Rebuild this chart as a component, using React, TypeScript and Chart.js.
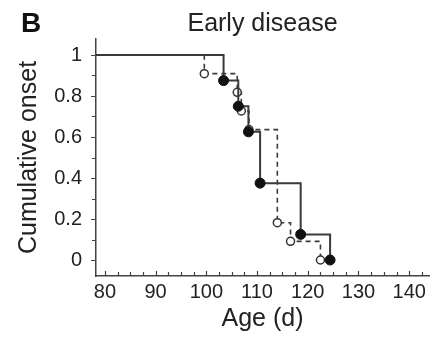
import React, { useEffect, useRef } from "react";
import { Chart, registerables } from "chart.js";

Chart.register(...registerables);

// ---- data ----
const ageSolid = [78.25, 103.4, 106.3, 108.3, 110.6, 118.6, 124.4];
const onsetSolid = [1, 0.875, 0.75, 0.625, 0.375, 0.125, 0];

const ageDashed = [78.25, 99.6, 106.1, 106.9, 108.4, 114.0, 116.6, 122.5];
const onsetDashed = [1, 0.909, 0.818, 0.727, 0.636, 0.182, 0.091, 0];

const xTickLabels = [80, 90, 100, 110, 120, 130, 140];
const yTickLabels = [0, 0.2, 0.4, 0.6, 0.8, 1];
const xMinorStep = 2.5;
const yMinorStep = 0.1;

const X_MIN = 78.25;
const X_MAX = 143.9;
const Y_MIN = -0.078;
const Y_MAX = 1.078;

const FONT = "'Liberation Sans', Arial, Helvetica, sans-serif";
const TEXT = "#222";
const AXIS = "#444";

const tickMarks = {
  id: "tickMarks",
  afterDraw(chart: any) {
    const { ctx, scales } = chart;
    const x = scales.x;
    const y = scales.y;
    ctx.save();
    ctx.strokeStyle = AXIS;
    ctx.lineWidth = 1.2;
    ctx.beginPath();
    const yBase = y.getPixelForValue(Y_MIN);
    for (let v = xTickLabels[0]; v <= X_MAX + 1e-9; v += xMinorStep) {
      const major = xTickLabels.some((t) => Math.abs(t - v) < 1e-6);
      const px = Math.round(x.getPixelForValue(v)) + 0.5;
      ctx.moveTo(px, yBase);
      ctx.lineTo(px, yBase - (major ? 5 : 4));
    }
    const xBase = x.getPixelForValue(X_MIN);
    for (let i = 0; i <= 10; i++) {
      const v = i * yMinorStep;
      const major = yTickLabels.some((t) => Math.abs(t - v) < 1e-6);
      const py = Math.round(y.getPixelForValue(v)) + 0.5;
      ctx.moveTo(xBase, py);
      ctx.lineTo(xBase - (major ? 5 : 4), py);
    }
    ctx.stroke();
    ctx.restore();
  },
};

export default function App() {
  const ref = useRef<HTMLCanvasElement | null>(null);

  useEffect(() => {
    if (!ref.current) return;
    const solidData = ageSolid.map((a, i) => ({ x: a, y: onsetSolid[i] }));
    const dashedData = ageDashed.map((a, i) => ({ x: a, y: onsetDashed[i] }));
    const chart = new Chart(ref.current, {
      type: "line",
      data: {
        datasets: [
          {
            data: solidData,
            stepped: true,
            borderColor: "#3a3a3a",
            borderWidth: 2,
            pointRadius: solidData.map((_, i) => (i === 0 ? 0 : 5)),
            pointBackgroundColor: "#111",
            pointBorderColor: "#111",
            pointBorderWidth: 1,
            fill: false,
          },
          {
            data: dashedData,
            stepped: true,
            borderColor: "#3a3a3a",
            borderWidth: 1.6,
            borderDash: [5, 4],
            pointRadius: dashedData.map((_, i) => (i === 0 ? 0 : 4)),
            pointBackgroundColor: "#fff",
            pointBorderColor: "#333",
            pointBorderWidth: 1.5,
            fill: false,
          },
        ],
      },
      options: {
        responsive: false,
        animation: false,
        devicePixelRatio: 1,
        layout: { padding: { left: 0, right: 2, top: 0, bottom: 0 } },
        plugins: {
          legend: { display: false },
          tooltip: { enabled: false },
          title: {
            display: true,
            text: "Early disease",
            fullSize: false,
            color: TEXT,
            font: { family: FONT, size: 25, weight: "normal" },
            padding: { top: 9, bottom: 0 },
          },
        },
        scales: {
          x: {
            type: "linear",
            min: X_MIN,
            max: X_MAX,
            afterBuildTicks: (s: any) => {
              s.ticks = xTickLabels.map((v) => ({ value: v }));
            },
            afterFit: (s: any) => {
              s.height = 61;
            },
            ticks: {
              color: TEXT,
              font: { family: FONT, size: 20 },
              padding: 4,
              maxRotation: 0,
              autoSkip: false,
              callback: (v: any) => String(v),
            },
            grid: { display: false, drawTicks: false },
            border: { display: true, color: AXIS, width: 1.5 },
            title: {
              display: true,
              text: "Age (d)",
              color: TEXT,
              font: { family: FONT, size: 25 },
              padding: { top: 0, bottom: 3 },
            },
          },
          y: {
            type: "linear",
            min: Y_MIN,
            max: Y_MAX,
            afterBuildTicks: (s: any) => {
              s.ticks = yTickLabels.map((v) => ({ value: v }));
            },
            afterFit: (s: any) => {
              s.width = 96;
            },
            ticks: {
              color: TEXT,
              font: { family: FONT, size: 20 },
              padding: 14,
              autoSkip: false,
              callback: (v: any) => String(v),
            },
            grid: { display: false, drawTicks: false },
            border: { display: true, color: AXIS, width: 1.5 },
            title: {
              display: true,
              text: "Cumulative onset",
              color: TEXT,
              font: { family: FONT, size: 25 },
              padding: { top: 14, bottom: 0 },
            },
          },
        },
      },
      plugins: [tickMarks],
    } as any);
    return () => chart.destroy();
  }, []);

  return (
    <div
      style={{
        position: "absolute",
        left: 0,
        top: 0,
        width: 435,
        height: 337,
        background: "#fff",
        overflow: "hidden",
      }}
    >
      <canvas ref={ref} width={435} height={337} style={{ display: "block" }} />
      <div
        style={{
          position: "absolute",
          left: 21,
          top: 9,
          fontFamily: FONT,
          fontWeight: "bold",
          fontSize: 28,
          lineHeight: "28px",
          color: "#111",
        }}
      >
        B
      </div>
    </div>
  );
}
